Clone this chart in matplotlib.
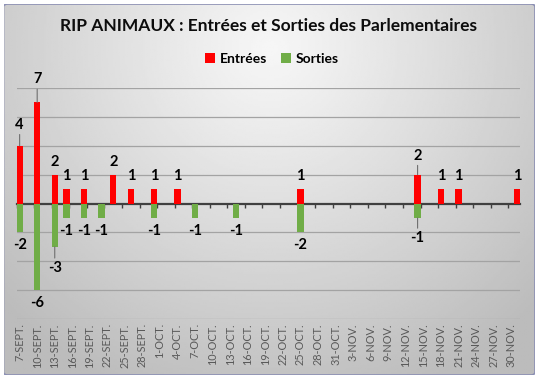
import numpy as np
import pandas as pd
import matplotlib
matplotlib.use('Agg')
import matplotlib.pyplot as plt
import matplotlib.dates as mdates
from matplotlib.patches import FancyBboxPatch

# données
titre = 'RIP ANIMAUX : Entrées et Sorties des Parlementaires'
entrees_dates = ['2020-09-07', '2020-09-10', '2020-09-13', '2020-09-15', '2020-09-18',
                 '2020-09-23', '2020-09-26', '2020-09-30', '2020-10-04', '2020-10-25',
                 '2020-11-14', '2020-11-18', '2020-11-21', '2020-12-01']
entrees = [4, 7, 2, 1, 1, 2, 1, 1, 1, 1, 2, 1, 1, 1]
sorties_dates = ['2020-09-07', '2020-09-10', '2020-09-13', '2020-09-15', '2020-09-18',
                 '2020-09-21', '2020-09-30', '2020-10-07', '2020-10-14', '2020-10-25',
                 '2020-11-14']
sorties = [-2, -6, -3, -1, -1, -1, -1, -1, -1, -2, -1]
mois = {9: 'SEPT.', 10: 'OCT.', 11: 'NOV.', 12: 'DÉC.'}

# étiquettes déplacées à la main dans l'original (px depuis le bout de la barre)
decalages = {('2020-09-07', 1): 21, ('2020-09-10', 1): 23, ('2020-11-14', 1): 19,
             ('2020-09-13', -1): 21, ('2020-11-14', -1): 20}
avec_trait = set(decalages)

plt.rcParams['font.family'] = ['Lato', 'DejaVu Sans']

W, H = 539, 382
fig = plt.figure(figsize=(W / 100, H / 100), dpi=100)
fig.patch.set_facecolor('white')

# fond dégradé du graphique
bg = fig.add_axes([3.5 / W, 1 - 375 / H, (535 - 3.5) / W, (375 - 4) / H])
bg.set_axis_off()
yy, xx = np.mgrid[0:1:200j, 0:1:300j]
r = np.sqrt(((xx - 0.5) / 0.7) ** 2 + ((yy - 0.12) / 1.0) ** 2)
grad = 0.965 - 0.23 * np.clip(r, 0, 1) ** 1.1
im = bg.imshow(grad, cmap='gray', vmin=0, vmax=1, aspect='auto', extent=(0, 1, 0, 1))
cadre = FancyBboxPatch((0, 0), 1, 1, boxstyle='round,pad=0,rounding_size=0.008',
                       transform=bg.transAxes, fc='none', ec='#8b8fb3', lw=1.2)
bg.add_patch(cadre)
im.set_clip_path(cadre)
bg.set_xlim(0, 1)
bg.set_ylim(0, 1)

ax = fig.add_axes([16.7 / W, 1 - 319 / H, (520 - 16.7) / W, (319 - 88) / H])
ax.patch.set_alpha(0)

ed = pd.to_datetime(entrees_dates)
sd = pd.to_datetime(sorties_dates)
debut = min(ed.min(), sd.min())
fin = max(ed.max(), sd.max())

ax.bar(ed, entrees, width=1.1, color='#ff0000', label='Entrées', zorder=2)
ax.bar(sd, sorties, width=1.1, color='#70ad47', label='Sorties', zorder=2)

x0 = mdates.date2num(debut)
x1 = mdates.date2num(fin)
ax.set_xlim(x0 - 0.5, x1 + 0.5)
ax.set_ylim(-8, 8)

ax.set_yticks([-8, -6, -4, -2, 2, 4, 6, 8])
ax.yaxis.grid(True, color='#a3a3a3', lw=0.9)
ax.tick_params(axis='y', length=0, labelleft=False)
for s in ax.spines.values():
    s.set_visible(False)

jours = pd.date_range(debut, fin, freq='3D')
ax.set_xticks(jours)
ax.set_xticklabels([f'{d.day}-{mois[d.month]}' for d in jours], rotation=90,
                   fontsize=7.8, color='#595959')
ax.tick_params(axis='x', length=0, pad=3)

# axe horizontal à zéro avec graduations
axe0 = ax.secondary_xaxis(0, transform=ax.transData)
axe0.set_xticks(np.arange(x0 - 0.5, x1 + 0.5, 3))
axe0.tick_params(axis='x', length=3, width=1, color='#404040', labelbottom=False)
axe0.spines['bottom'].set_color('#404040')
axe0.spines['bottom'].set_linewidth(1.6)

# étiquettes de données
def etiquettes(dates, valeurs, textes):
    for d, v, t in zip(dates, valeurs, textes):
        sens = 1 if v > 0 else -1
        px = decalages.get((t, sens), 13)
        props = None
        if (t, sens) in avec_trait:
            props = dict(arrowstyle='-', color='#6f6f6f', lw=0.8, shrinkA=0, shrinkB=0)
        ax.annotate(str(v), xy=(d, v), xytext=(0, sens * px * 0.72),
                    textcoords='offset points', ha='center', va='center',
                    fontsize=10.5, fontweight='bold', color='black',
                    arrowprops=props, zorder=4)

etiquettes(ed, entrees, entrees_dates)
etiquettes(sd, sorties, sorties_dates)

fig.text(268.5 / W, 1 - 26 / H, titre, ha='center', va='center',
         fontsize=12.5, fontweight='bold', color='#0d0d0d')
fig.legend(loc='center', bbox_to_anchor=(272 / W, 1 - 59 / H), ncol=2, frameon=False,
           prop={'weight': 'bold', 'size': 10}, handlelength=0.7, handleheight=0.7,
           columnspacing=1.0, handletextpad=0.35)

fig.savefig('out.png', dpi=100)
